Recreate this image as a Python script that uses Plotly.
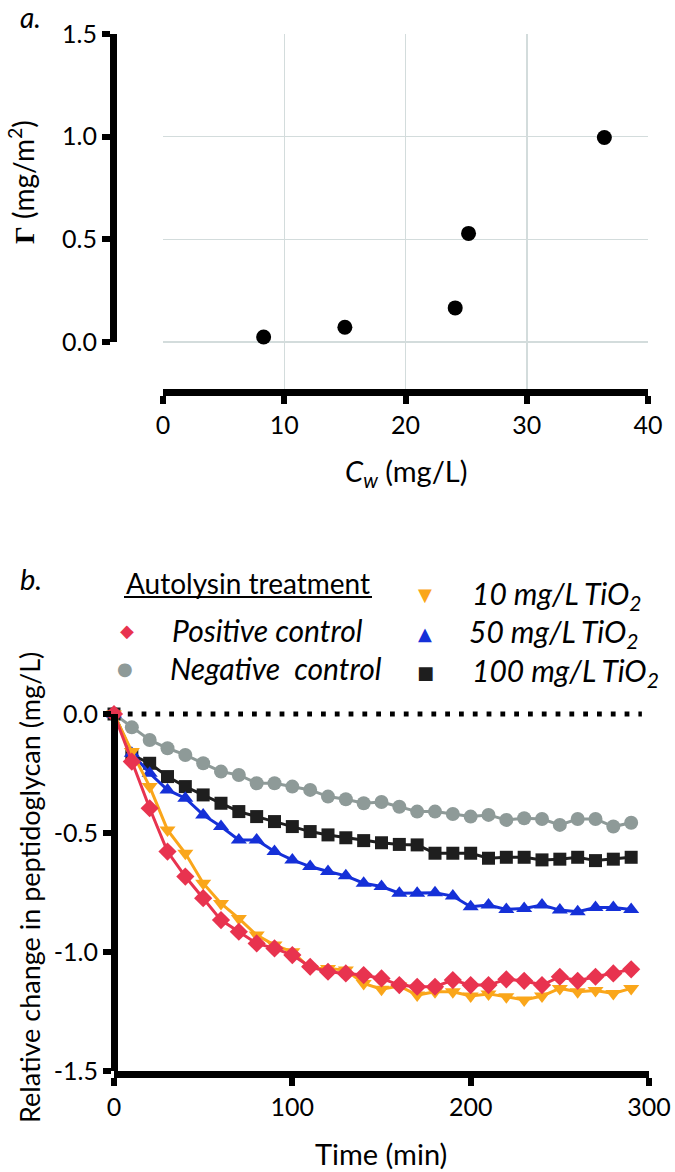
import plotly.graph_objects as go

W, H = 675, 1172
FONT = "Lato"

# ---------------- Panel a data ----------------
cw = [8.3, 15.0, 24.1, 25.2, 36.4]
gamma = [0.024, 0.072, 0.166, 0.529, 0.996]
a_xticks = [0, 10, 20, 30, 40]
a_yticks = [0.0, 0.5, 1.0, 1.5]

# ---------------- Panel b data ----------------
time_min = [0, 10, 20, 30, 40, 50, 60, 70, 80, 90, 100, 110, 120, 130, 140,
            150, 160, 170, 180, 190, 200, 210, 220, 230, 240, 250, 260, 270, 280, 290]
negative_control = [0, -0.056, -0.109, -0.144, -0.172, -0.207, -0.242, -0.256, -0.291, -0.291,
                    -0.305, -0.319, -0.347, -0.358, -0.375, -0.370, -0.390, -0.410, -0.410, -0.420,
                    -0.431, -0.424, -0.445, -0.438, -0.441, -0.466, -0.441, -0.441, -0.473, -0.457]
tio2_100 = [0, -0.172, -0.207, -0.263, -0.305, -0.340, -0.375, -0.410, -0.431, -0.452,
            -0.473, -0.494, -0.508, -0.520, -0.532, -0.541, -0.548, -0.550, -0.585, -0.585,
            -0.585, -0.606, -0.602, -0.602, -0.613, -0.610, -0.602, -0.616, -0.610, -0.602]
tio2_50 = [0, -0.165, -0.249, -0.319, -0.354, -0.424, -0.473, -0.529, -0.529, -0.578,
           -0.613, -0.641, -0.662, -0.680, -0.711, -0.725, -0.753, -0.753, -0.751, -0.765,
           -0.810, -0.803, -0.821, -0.817, -0.803, -0.824, -0.831, -0.813, -0.813, -0.821]
tio2_10 = [0, -0.158, -0.305, -0.487, -0.585, -0.711, -0.796, -0.859, -0.929, -0.971,
           -0.999, -1.069, -1.069, -1.076, -1.132, -1.156, -1.143, -1.181, -1.167, -1.167,
           -1.185, -1.176, -1.188, -1.202, -1.185, -1.153, -1.167, -1.162, -1.174, -1.153]
positive_control = [0, -0.200, -0.396, -0.578, -0.683, -0.774, -0.866, -0.915, -0.964, -0.985,
                    -1.013, -1.062, -1.083, -1.090, -1.097, -1.111, -1.139, -1.146, -1.146, -1.118,
                    -1.139, -1.139, -1.115, -1.121, -1.139, -1.104, -1.121, -1.104, -1.090, -1.073]
b_xticks = [0, 100, 200, 300]
b_yticks = [-1.5, -1.0, -0.5, 0.0]
b_yticktext = ["-1.5", "-1.0", "-0.5", "0.0"]

series_names = ["Negative  control", "100 mg/L TiO<sub>2</sub>", "50 mg/L TiO<sub>2</sub>",
                "10 mg/L TiO<sub>2</sub>", "Positive control"]

# ---------------- styles ----------------
C_RED = "#E8334F"
C_GRAY = "#8E9A98"
C_ORANGE = "#FAA61A"
C_BLUE = "#1530D8"
C_BLACK = "#1E1E1E"


def px_x(p):
    return p / W


def px_y(p):
    return 1 - p / H


fig = go.Figure()

# panel a scatter
fig.add_trace(go.Scatter(x=cw, y=gamma, mode="markers",
                         marker=dict(color="black", size=15, symbol="circle"),
                         xaxis="x", yaxis="y", showlegend=False, cliponaxis=False))
# dummy trace to create the offset y-axis of panel a
fig.add_trace(go.Scatter(x=[None], y=[None], xaxis="x", yaxis="y3", showlegend=False))

# panel b series
b_series = [
    (negative_control, C_GRAY, "circle", 14),
    (tio2_100, C_BLACK, "square", 13),
    (tio2_50, C_BLUE, "triangle-up", 14),
    (tio2_10, C_ORANGE, "triangle-down", 14),
    (positive_control, C_RED, "diamond", 14),
]
for (vals, col, sym, sz), nm in zip(b_series, series_names):
    fig.add_trace(go.Scatter(x=time_min, y=vals, mode="lines+markers", name=nm,
                             line=dict(color=col, width=3),
                             marker=dict(color=col, size=sz, symbol=sym, line=dict(width=0)),
                             xaxis="x2", yaxis="y2", showlegend=False, cliponaxis=False))
fig.add_trace(go.Scatter(x=[None], y=[None], xaxis="x2", yaxis="y4", showlegend=False))

# dotted zero line
fig.add_shape(type="line", xref="x2", yref="y2", x0=0, x1=296, y0=0, y1=0,
              line=dict(color="black", width=4.8, dash="4.8px,9px"), layer="below")

tickfont = dict(family=FONT, size=25, color="black")
axline = dict(showline=True, linecolor="black", linewidth=7, ticks="outside",
              ticklen=8, tickwidth=6, tickcolor="black", tickfont=tickfont,
              zeroline=False, fixedrange=True, automargin=False, ticklabeloverflow="allow")

# panel a vertical layout (page pixels)
a_top, a_zero, a_bottom = 34, 342, 388.5
a_unit = (a_zero - a_top) / 1.5
a_ymin = -(a_bottom - a_zero) / a_unit

# panel b vertical layout (page pixels)
b_zero, b_bottom = 714, 1071
b_unit = (b_bottom - b_zero) / 1.5
b_top = 700
b_ymax = (b_zero - b_top) / b_unit

fig.update_layout(
    template="none",
    width=W, height=H,
    margin=dict(l=0, r=0, t=0, b=0, autoexpand=False),
    paper_bgcolor="white", plot_bgcolor="rgba(0,0,0,0)",
    font=dict(family=FONT, color="black"),
    xaxis=dict(domain=[px_x(163), px_x(648)], range=[0, 40], tickvals=a_xticks,
               showgrid=True, gridcolor="#D3DCDC", gridwidth=1.5, anchor="y", **axline),
    yaxis=dict(domain=[px_y(a_bottom), px_y(a_top)], range=[a_ymin, 1.5], tickvals=a_yticks,
               showgrid=True, gridcolor="#D3DCDC", gridwidth=1.5, showline=False,
               showticklabels=False, ticks="", zeroline=False, anchor="x", fixedrange=True,
               automargin=False),
    yaxis3=dict(domain=[px_y(a_zero), px_y(a_top)], range=[0, 1.5], tickvals=a_yticks,
                tickformat=".1f", anchor="free", position=px_x(113), side="left",
                showgrid=False, **axline),
    xaxis2=dict(domain=[px_x(114), px_x(649)], range=[0, 300], tickvals=b_xticks,
                showgrid=False, anchor="y2", **axline),
    yaxis2=dict(domain=[px_y(b_bottom), px_y(b_top)], range=[-1.5, b_ymax], showgrid=False,
                showline=False, showticklabels=False, ticks="", zeroline=False, anchor="x2",
                fixedrange=True, automargin=False),
    yaxis4=dict(domain=[px_y(b_bottom), px_y(b_zero)], range=[-1.5, 0], tickvals=b_yticks,
                ticktext=b_yticktext, anchor="free", position=px_x(114), side="left",
                showgrid=False, **axline),
)

ann = []


def add_text(text, x, y, size=28, xanchor="left", italic=False, angle=0, family=FONT):
    if italic:
        text = "<i>" + text + "</i>"
    ann.append(dict(text=text, x=px_x(x), y=px_y(y), xref="paper", yref="paper",
                    xanchor=xanchor, yanchor="middle", showarrow=False, textangle=angle,
                    font=dict(family=family, size=size, color="black")))


# panel labels
add_text("a.", 18, 17, size=28, italic=True)
add_text("b.", 18, 578, size=29, italic=True)

# axis titles
add_text("<i>C<sub>w</sub></i> (mg/L)", 406, 472, size=29, xanchor="center")
add_text("Time (min)", 381, 1153, size=29, xanchor="center")
add_text("<span style='font-family:Liberation Serif'><b>Γ</b></span> (mg/m<sup>2</sup>)",
         22, 182, xanchor="center", angle=-90)
add_text("Relative change in peptidoglycan (mg/L)", 30, 888, size=27, xanchor="center",
         angle=-90)

# legend
add_text("Autolysin treatment", 124, 583)
fig.add_shape(type="line", xref="paper", yref="paper", x0=px_x(124), x1=px_x(372),
              y0=px_y(597), y1=px_y(597), line=dict(color="black", width=2))

leg_items = [
    ("◆", C_RED, 127, 630, series_names[4], 170),
    ("●", C_GRAY, 125, 668, series_names[0], 168),
    ("▼", C_ORANGE, 425, 595, series_names[3], 470),
    ("▲", C_BLUE, 425, 633, series_names[2], 467),
    ("■", C_BLACK, 425, 672, series_names[1], 470),
]
for sym, col, sx, sy, label, tx in leg_items:
    ann.append(dict(text=sym, x=px_x(sx), y=px_y(sy), xref="paper", yref="paper",
                    xanchor="center", yanchor="middle", showarrow=False,
                    font=dict(family="DejaVu Sans", size=18, color=col)))
    add_text(label, tx, sy, size=30, italic=True)

fig.update_layout(annotations=ann)
# remove the browser's default 8px body margin so the figure fills the window exactly
fig.write_html("out.html",
               config={"displayModeBar": False, "staticPlot": True},
               post_script="document.documentElement.style.margin='0';"
                           "document.body.style.margin='0';"
                           "document.body.style.overflow='hidden';")
